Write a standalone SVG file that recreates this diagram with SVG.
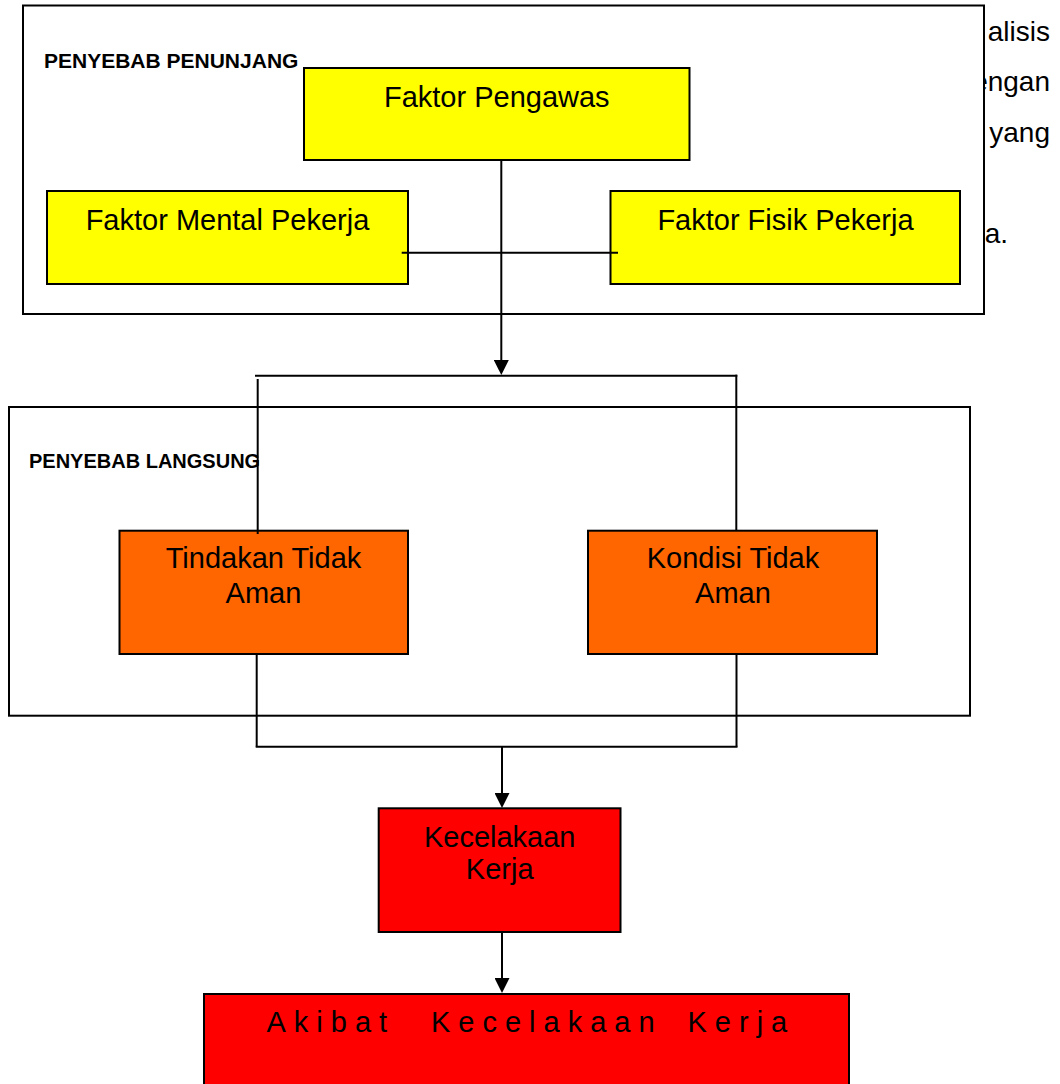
<svg xmlns="http://www.w3.org/2000/svg" width="1060" height="1084" viewBox="0 0 1060 1084">
<style>
.frame{fill:#fff;stroke:#000;stroke-width:2}
.yel{fill:#ffff00;stroke:#000;stroke-width:2}
.org{fill:#ff6600;stroke:#000;stroke-width:2}
.red{fill:#ff0000;stroke:#000;stroke-width:2}
.lbl{font-family:"Liberation Sans",Arial,sans-serif;font-size:29px;fill:#000}
.hd{font-family:"Liberation Sans",Arial,sans-serif;font-weight:bold;fill:#000}
.bg{font-family:"Liberation Sans",Arial,sans-serif;font-size:28px;fill:#000;text-anchor:end}
.c{text-anchor:middle}
.ln{fill:none;stroke:#000;stroke-width:2}
</style>
<defs>
<marker id="ah" markerUnits="userSpaceOnUse" markerWidth="15" markerHeight="15" viewBox="0 0 15 15" refX="12" refY="7.5" orient="auto">
<path d="M0,0 L15,7.5 L0,15 z" fill="#000"/>
</marker>
</defs>
<rect width="1060" height="1084" fill="#fff"/>
<g id="background-text">
<text class="bg" x="1050" y="40.5">alisis</text>
<text class="bg" x="1050" y="91">engan</text>
<text class="bg" x="1050" y="141.5">yang</text>
<text class="bg" x="1008" y="242.5">a.</text>
</g>
<g id="group-penunjang">
<rect class="frame" x="23" y="5.5" width="961" height="308.5"/>
<text class="hd" x="44" y="68" font-size="21">PENYEBAB PENUNJANG</text>
</g>
<g id="node-pengawas">
<rect class="yel" x="304" y="68" width="385.5" height="92"/>
<text class="lbl c" x="496.8" y="106.7">Faktor Pengawas</text>
</g>
<g id="node-mental">
<rect class="yel" x="47" y="191" width="361" height="93"/>
<text class="lbl c" x="227.5" y="230">Faktor Mental Pekerja</text>
</g>
<g id="node-fisik">
<rect class="yel" x="610.5" y="191" width="349.5" height="93"/>
<text class="lbl c" x="785.5" y="230">Faktor Fisik Pekerja</text>
</g>
<g id="group-langsung">
<rect class="frame" x="9" y="407" width="961" height="308.7"/>
<text class="hd" x="29" y="468" font-size="20">PENYEBAB LANGSUNG</text>
</g>
<g id="node-tindakan">
<rect class="org" x="119.5" y="530.7" width="288.5" height="123.3"/>
<text class="lbl c" x="263.5" y="568">Tindakan Tidak</text>
<text class="lbl c" x="263.5" y="602.7">Aman</text>
</g>
<g id="node-kondisi">
<rect class="org" x="588" y="530.7" width="289" height="123.3"/>
<text class="lbl c" x="733" y="568">Kondisi Tidak</text>
<text class="lbl c" x="733" y="602.7">Aman</text>
</g>
<g id="node-kecelakaan">
<rect class="red" x="378.7" y="808.3" width="241.8" height="123.7"/>
<text class="lbl c" x="499.7" y="846.7">Kecelakaan</text>
<text class="lbl c" x="499.7" y="879.3">Kerja</text>
</g>
<g id="node-akibat">
<rect class="red" x="204" y="994" width="645" height="110"/>
<text class="lbl" y="1031.7" font-size="28" letter-spacing="8"><tspan x="266.5">Akibat</tspan><tspan x="431">Kecelakaan</tspan><tspan x="687.5">Kerja</tspan></text>
</g>
<g id="connectors">
<line class="ln" x1="401.7" y1="252.7" x2="618" y2="252.7"/>
<line class="ln" x1="501.3" y1="160" x2="501.3" y2="372" marker-end="url(#ah)"/>
<line class="ln" x1="255" y1="375.7" x2="737.3" y2="375.7"/>
<line class="ln" x1="257.7" y1="379" x2="257.7" y2="534"/>
<line class="ln" x1="736.3" y1="374.7" x2="736.3" y2="530.7"/>
<line class="ln" x1="256.7" y1="654" x2="256.7" y2="746.7"/>
<line class="ln" x1="736.5" y1="654" x2="736.5" y2="746.7"/>
<line class="ln" x1="255.7" y1="746.7" x2="737.5" y2="746.7"/>
<line class="ln" x1="502" y1="746.7" x2="502" y2="805" marker-end="url(#ah)"/>
<line class="ln" x1="502" y1="932" x2="502" y2="990" marker-end="url(#ah)"/>
</g>
</svg>
